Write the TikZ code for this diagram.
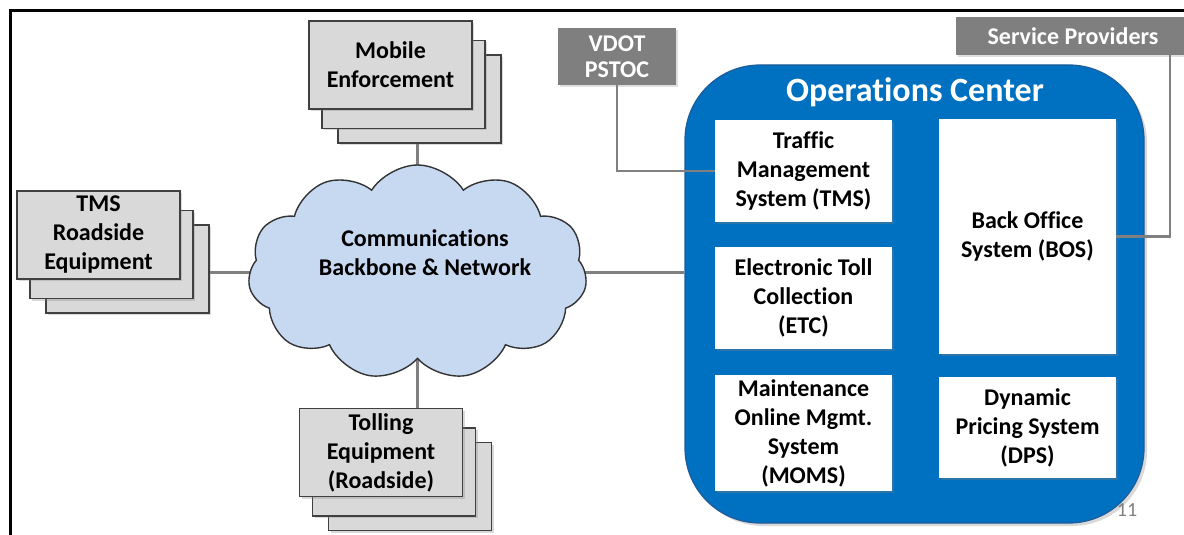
\documentclass[tikz,border=0pt]{standalone}
\usepackage{fontspec}
\setmainfont{Carlito}[Ligatures=NoCommon]
\usetikzlibrary{shapes.symbols,shadows,backgrounds,calc}
\definecolor{opsblue}{HTML}{0070C0}
\definecolor{opsedge}{HTML}{1F5C99}
\definecolor{boxgray}{HTML}{D9D9D9}
\definecolor{darkgray}{HTML}{7F7F7F}
\definecolor{cloudblue}{HTML}{C6D9F1}
\definecolor{linegray}{HTML}{808080}
\begin{document}
\begin{tikzpicture}[x=0.5pt,y=-0.5pt,
  bodyfont/.style={font=\bfseries\fontsize{12}{14.5}\selectfont},
  stackbox/.style={bodyfont, draw=black!75, fill=boxgray, line width=0.7pt,
    minimum width=81.5pt, minimum height=44pt, inner sep=1pt, align=center,
    drop shadow={shadow xshift=1pt, shadow yshift=-1pt, opacity=0.3}},
  whitebox/.style={bodyfont, fill=white, minimum width=88.5pt, inner sep=1pt, align=center,
    drop shadow={shadow xshift=1pt, shadow yshift=-1pt, opacity=0.35}},
  graybox/.style={font=\bfseries\fontsize{12}{13}\selectfont, text=white, fill=darkgray,
    inner sep=1pt, align=center,
    drop shadow={shadow xshift=1pt, shadow yshift=-1pt, opacity=0.25}},
  conn/.style={draw=linegray, line width=1.3pt},
  frameline/.style={draw=black, line width=1.5pt}
]
\useasboundingbox (0,0) rectangle (1184,535);
\clip (0,0) rectangle (1184,535);

% slide frame
\draw[frameline] (10,540) -- (10,11) -- (1190,11);

% Mobile Enforcement stack
\node[stackbox] (mob3) at (419.5,99) {};
\node[stackbox] (mob2) at (403.5,84.5) {};
\node[stackbox] (mob1) at (390.5,65) {Mobile\\Enforcement};

% TMS Roadside stack
\node[stackbox] (tms3) at (127.5,269) {};
\node[stackbox] (tms2) at (111.5,254.5) {};
\node[stackbox] (tms1) at (98.5,235) {TMS\\Roadside\\Equipment};

% Tolling stack
\node[stackbox] (tol3) at (410,486.5) {};
\node[stackbox] (tol2) at (394,472) {};
\node[stackbox] (tol1) at (381,452.5) {Tolling\\Equipment\\(Roadside)};

% Cloud
\node[cloud, cloud puffs=11, cloud puff arc=115, cloud ignores aspect,
      minimum width=169.5pt, minimum height=107.5pt,
      draw=black!80, line width=0.7pt, fill=cloudblue] (cloud) at (417.5,272.5) {};
\node[bodyfont, align=center] (cloudtxt) at (425,253) {Communications\\Backbone \& Network};

% Operations center
\node[fill=opsblue, draw=opsedge, line width=0.6pt, rounded corners=37.5pt,
      minimum width=229.5pt, minimum height=229pt,
      drop shadow={shadow xshift=1.5pt, shadow yshift=-1.5pt, opacity=0.3}] (ops) at (914.5,294) {};
\node[font=\bfseries\fontsize{17}{20}\selectfont, text=white] (opstitle) at (915,92) {Operations Center};

\node[whitebox, minimum height=51pt] (tms) at (803.5,171) {Traffic\\Management\\System (TMS)};
\node[whitebox, minimum height=51pt] (etc) at (803.5,298) {Electronic Toll\\Collection\\(ETC)};
\node[whitebox, minimum height=58pt] (moms) at (803.5,433) {Maintenance\\Online Mgmt.\\System\\(MOMS)};
\node[whitebox, minimum height=117pt] (bos) at (1027.5,236.5) {Back Office\\System (BOS)};
\node[whitebox, minimum height=50.5pt] (dps) at (1027.5,427.5) {Dynamic\\Pricing System\\(DPS)};

% external gray boxes
\node[graybox, minimum width=59pt, minimum height=28.5pt] (vdot) at (617,56.5) {VDOT\\PSTOC};
\node[graybox, minimum width=117pt, minimum height=19pt] (sp) at (1073,36) {Service Providers};

% page number
\node[text=darkgray, font=\fontsize{10}{12}\selectfont] (pg) at (1127,510) {11};

% connectors behind the cloud
\begin{pgfonlayer}{background}
\draw[conn] (cloud.center) -- (cloud.center |- mob3.south);
\draw[conn] (cloud.center) -- (cloud.center |- tol1.north);
\draw[conn] (cloud.center) -- (tms3.east |- cloud.center);
\draw[conn] (cloud.center) -- (cloud.center -| ops.west);
\end{pgfonlayer}

% connectors to external boxes
\draw[conn] (vdot.south) |- (tms.west);
\coordinate (spdrop) at (1170,45);
\draw[conn] (spdrop) |- (bos.east);
\end{tikzpicture}
\end{document}
